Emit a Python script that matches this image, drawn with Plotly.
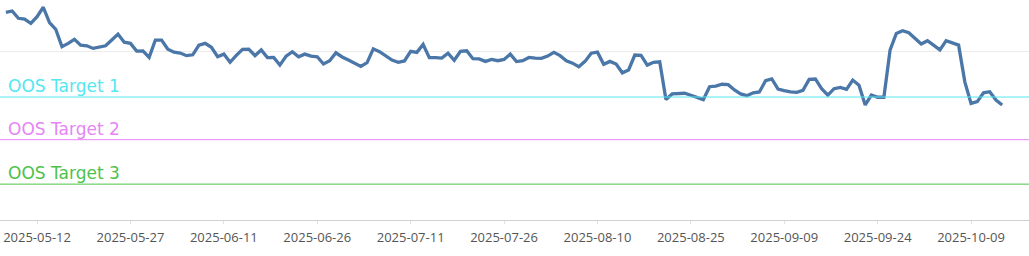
import pandas as pd
import plotly.graph_objects as go

start_date = "2025-05-07"
values = [
    117.6, 118.2, 114.9, 114.5, 112.6, 115.6, 119.9, 112.9, 109.9, 102.0,
    103.5, 105.3, 102.7, 102.4, 101.2, 101.8, 102.4, 105.0, 107.7, 104.0,
    103.5, 100.0, 100.1, 97.1, 105.0, 105.0, 100.8, 99.5, 99.1, 97.9,
    98.3, 102.7, 103.5, 101.7, 97.4, 98.6, 94.9, 98.0, 100.8, 100.9,
    97.9, 100.5, 97.0, 97.1, 93.6, 97.7, 99.7, 97.4, 98.6, 97.7,
    97.4, 94.1, 95.6, 99.2, 97.3, 95.9, 94.4, 93.0, 94.7, 101.0,
    99.7, 97.9, 95.9, 94.9, 95.5, 99.9, 99.4, 103.0, 97.0, 97.0,
    96.8, 99.0, 95.8, 99.9, 100.1, 96.5, 96.4, 95.3, 96.2, 95.6,
    96.2, 98.6, 95.2, 95.6, 97.1, 96.8, 96.7, 97.7, 99.4, 97.9,
    95.6, 94.5, 92.9, 95.3, 99.0, 99.5, 94.0, 95.3, 94.1, 90.1,
    91.4, 98.2, 98.0, 93.6, 94.9, 95.1, 78.0, 80.5, 80.8, 80.8,
    79.9, 79.0, 77.9, 83.8, 84.1, 84.9, 84.7, 82.3, 80.5, 79.7,
    81.0, 81.4, 86.5, 87.3, 82.7, 82.0, 81.4, 81.2, 82.1, 87.1,
    87.3, 82.9, 80.0, 82.9, 83.5, 82.6, 86.8, 84.5, 75.5, 80.0,
    79.0, 79.0, 100.5, 108.0, 109.2, 108.3, 105.5, 103.2, 104.7, 102.7,
    100.5, 104.7, 103.5, 102.7, 86.0, 76.2, 77.0, 81.0, 81.5, 77.7,
    75.5,
]
dates = pd.date_range(start_date, periods=len(values), freq="D")

target_names = ["OOS Target 1", "OOS Target 2", "OOS Target 3"]
target_values = [79.1, 59.7, 39.5]
target_colors = ["#55e6f0", "#e585f6", "#4cc24c"]

fig = go.Figure()
fig.add_trace(go.Scatter(
    x=dates, y=values, mode="lines",
    line=dict(color="#4a76a8", width=3.3),
    showlegend=False, hoverinfo="x+y",
))

for name, val, col in zip(target_names, target_values, target_colors):
    fig.add_shape(type="line", xref="paper", x0=0, x1=1, yref="y", y0=val, y1=val,
                  line=dict(color=col, width=1))
    fig.add_annotation(text=name, xref="paper", x=0.006, xanchor="left",
                       yref="y", y=val, yanchor="bottom", yshift=-1,
                       showarrow=False,
                       font=dict(family="DejaVu Sans", size=17, color=col))

fig.update_layout(
    width=1029, height=256,
    margin=dict(l=0, r=0, t=0, b=36),
    paper_bgcolor="white", plot_bgcolor="white",
    showlegend=False,
    xaxis=dict(
        type="date",
        range=["2025-05-06 01:10", "2025-10-18 07:20"],
        tick0="2025-05-12", dtick=15 * 86400000,
        tickformat="%Y-%m-%d",
        showgrid=False, zeroline=False,
        showline=True, linecolor="#d0d0d0", linewidth=1,
        ticks="outside", ticklen=3, tickcolor="#e0e0e0",
        ticklabelstandoff=2,
        tickfont=dict(family="Open Sans", size=13, color="#555555"),
    ),
    yaxis=dict(
        range=[23.2, 123.2],
        tickvals=[100],
        showticklabels=False,
        showgrid=True, gridcolor="#ececec", gridwidth=1,
        zeroline=False, showline=False,
    ),
)

fig.write_html("out.html")
